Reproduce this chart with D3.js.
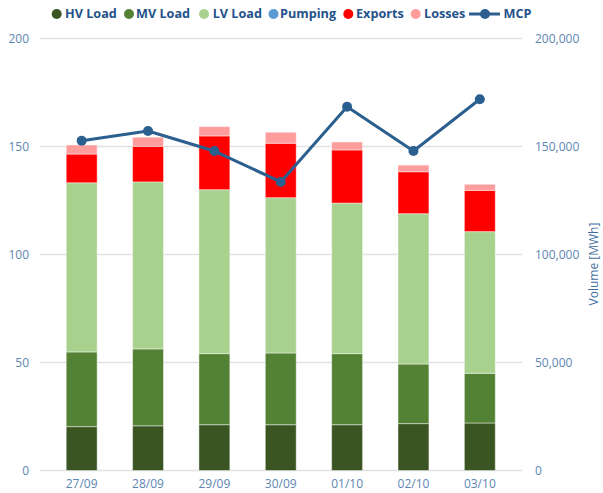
<!DOCTYPE html>
<html><head><meta charset="utf-8">
<script src="https://cdn.jsdelivr.net/npm/d3@7"></script>
<style>body{margin:0;background:#fff}svg{display:block;font-family:"Open Sans",sans-serif}</style>
</head><body><svg id="c" width="603" height="493"></svg>
<script>
const categories = ["27/09","28/09","29/09","30/09","01/10","02/10","03/10"];
const hvLoad   = [20300,20700,21200,21200,21200,21700,22000];
const mvLoad   = [34600,35600,32900,33200,32900,27600,23000];
const lvLoad   = [78300,77300,75900,71900,69700,69600,65600];
const pumping  = [0,0,0,0,0,0,0];
const exportsV = [13300,16500,24900,25200,24600,19400,19100];
const losses   = [4200,4200,4300,5100,3700,3100,2800];
const mcp      = [152.7,157.2,147.9,133.6,168.4,147.9,171.9];
const leftTicks = [0,50,100,150,200];
const rightTicks = [0,50000,100000,150000,200000];

const seriesNames = ["HV Load","MV Load","LV Load","Pumping","Exports","Losses"];
const seriesData = [hvLoad,mvLoad,lvLoad,pumping,exportsV,losses];
const colors = ["#3a5422","#538234","#a9d18e","#5b9bd5","#ff0000","#ff9c9c"];
const lineColor = "#2b5f8f";
const tickColor = "#5c86b2";
const legendColor = "#24528a";

const svg = d3.select("#c");
const x = d3.scaleBand().domain(categories).range([48.5,513]).paddingInner(0.534).paddingOuter(0.267);
const yL = d3.scaleLinear().domain([0,200]).range([470.5,38.5]);
const yR = d3.scaleLinear().domain([0,200000]).range([470.5,38.5]);

// gridlines
svg.append("g").selectAll("line").data(leftTicks).join("line")
  .attr("x1",40).attr("x2",522).attr("y1",d=>yL(d)).attr("y2",d=>yL(d))
  .attr("stroke","#e1e1e1").attr("stroke-width",1.5);

// left axis labels
svg.append("g").selectAll("text").data(leftTicks).join("text")
  .attr("x",29).attr("y",d=>yL(d)).attr("dy","0.35em").attr("text-anchor","end")
  .attr("font-size",12).attr("fill",tickColor).text(d=>d);
// right axis labels
const fmt = d3.format(",");
svg.append("g").selectAll("text").data(rightTicks).join("text")
  .attr("x",535).attr("y",d=>yR(d)).attr("dy","0.35em").attr("text-anchor","start")
  .attr("font-size",12).attr("fill",tickColor).text(d=>fmt(d));
svg.append("text").attr("transform","translate(598,264) rotate(-90)")
  .attr("text-anchor","middle").attr("font-size",12).attr("fill","#3f6f9f").text("Volume [MWh]");

// stacked bars
const table = categories.map((c,i)=>{const o={cat:c};seriesNames.forEach((s,j)=>o[s]=seriesData[j][i]);return o;});
const stack = d3.stack().keys(seriesNames)(table);
svg.append("g").selectAll("g").data(stack).join("g")
  .attr("fill",(d,i)=>colors[i])
  .selectAll("rect").data(d=>d).join("rect")
  .attr("x",d=>x(d.data.cat)).attr("width",x.bandwidth())
  .attr("y",d=>yR(d[1])).attr("height",d=>Math.max(0,yR(d[0])-yR(d[1])))
  .attr("stroke",d=>(d[1]-d[0])>0?"rgba(255,255,255,0.45)":"none").attr("stroke-width",1);

// x labels
svg.append("g").selectAll("text").data(categories).join("text")
  .attr("x",d=>x(d)+x.bandwidth()/2).attr("y",484).attr("dy","0.35em").attr("text-anchor","middle")
  .attr("font-size",12).attr("fill",tickColor).text(d=>d);

// MCP line
const line = d3.line().x((d,i)=>x(categories[i])+x.bandwidth()/2).y(d=>yL(d));
svg.append("path").datum(mcp).attr("d",line).attr("fill","none").attr("stroke",lineColor).attr("stroke-width",3).attr("stroke-linejoin","round");
svg.append("g").selectAll("circle").data(mcp).join("circle")
  .attr("cx",(d,i)=>x(categories[i])+x.bandwidth()/2).attr("cy",d=>yL(d)).attr("r",5).attr("fill",lineColor);

// legend
const lg = svg.append("g").attr("font-weight","bold").attr("fill",legendColor);
const circX = [56.7,129,204,273.5,348.3,415.7];
const textX = [65,136,212.7,280,356,424];
const ly = 14;
const texts = [];
seriesNames.forEach((s,i)=>{
  lg.append("circle").attr("cx",circX[i]).attr("cy",ly).attr("r",5).attr("fill",colors[i]);
  texts.push(lg.append("text").attr("x",textX[i]).attr("y",ly).attr("dy","0.35em").text(s));
});
lg.append("line").attr("x1",469).attr("x2",500).attr("y1",ly).attr("y2",ly).attr("stroke",lineColor).attr("stroke-width",3);
lg.append("circle").attr("cx",485).attr("cy",ly).attr("r",5).attr("fill",lineColor);
texts.push(lg.append("text").attr("x",503.5).attr("y",ly).attr("dy","0.35em").text("MCP"));
// fit font size to reference label widths
lg.attr("font-size",13);
let sum = 0; texts.forEach(t=>sum+=t.node().getComputedTextLength());
const targetSum = 329;
lg.attr("font-size", Math.min(15, 13*targetSum/sum));
</script></body></html>
